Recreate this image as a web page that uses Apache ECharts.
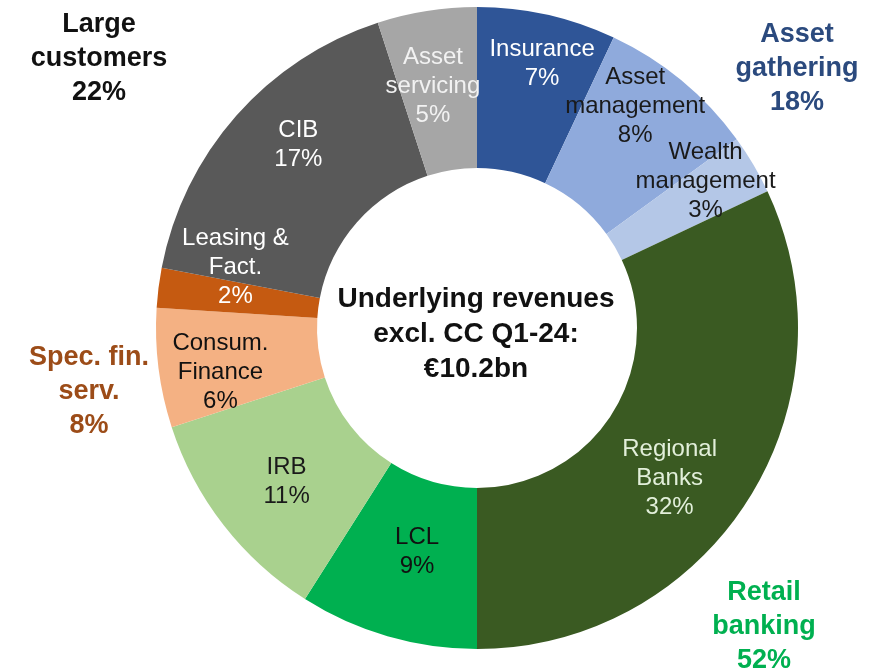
<!DOCTYPE html>
<html>
<head>
<meta charset="utf-8">
<script src="https://cdn.jsdelivr.net/npm/echarts@6/dist/echarts.min.js"></script>
<style>
  html, body { margin: 0; padding: 0; background: #fff; }
  #chart { width: 887px; height: 672px; }
</style>
</head>
<body>
<div id="chart"></div>
<script>
// slices, clockwise from 12 o'clock
var sliceNames = ['Insurance', 'Asset\nmanagement', 'Wealth\nmanagement', 'Regional\nBanks', 'LCL', 'IRB', 'Consum.\nFinance', 'Leasing &\nFact.', 'CIB', 'Asset\nservicing'];
var sliceShares = [7, 8, 3, 32, 9, 11, 6, 2, 17, 5];
var sliceColors = ['#2F5597', '#8FAADC', '#B4C7E7', '#3A5A22', '#00B050', '#A9D18E', '#F4B183', '#C55A11', '#595959', '#A6A6A6'];
var labelColors = ['#ffffff', '#1a1a1a', '#1a1a1a', '#E2EFDA', '#111111', '#1a1a1a', '#111111', '#ffffff', '#ffffff', '#F2F2F2'];
// nudge of each slice label from the ring middle (px)
var labelShift = [[12, -26], [3, -34], [19, -23], [-13, 20], [8, -10], [2, 5], [-15, 14], [0, -30], [4, -22], [-6, -1]];

// business groups
var groupNames = ['Large\ncustomers', 'Asset\ngathering', 'Spec. fin.\nserv.', 'Retail\nbanking'];
var groupShares = [22, 18, 8, 52];
var groupColors = ['#111111', '#2B4A7E', '#9C4C18', '#00B050'];
var groupPos = [[99, 59], [797, 69], [89, 392], [764, 627]];

var centerText = 'Underlying revenues\nexcl. CC Q1-24:\n€10.2bn';

var font = '"Liberation Sans", Arial, sans-serif';

var chart = echarts.init(document.getElementById('chart'));

var pieData = sliceNames.map(function (n, i) {
  return {
    name: n,
    value: sliceShares[i],
    itemStyle: { color: sliceColors[i] },
    label: { color: labelColors[i] }
  };
});

var graphics = groupNames.map(function (n, i) {
  return {
    type: 'text',
    x: groupPos[i][0],
    y: groupPos[i][1],
    style: {
      text: n + '\n' + groupShares[i] + '%',
      fill: groupColors[i],
      font: 'bold 27px ' + font,
      lineHeight: 34,
      align: 'center',
      verticalAlign: 'middle'
    }
  };
});
graphics.push({
  type: 'text',
  x: 476,
  y: 334,
  style: {
    text: centerText,
    fill: '#111111',
    font: 'bold 28px ' + font,
    lineHeight: 35,
    align: 'center',
    verticalAlign: 'middle'
  }
});

var options = {
  animation: false,
  backgroundColor: '#ffffff',
  graphic: graphics,
  series: [
    {
      type: 'pie',
      center: [477, 328],
      radius: [160, 321],
      startAngle: 90,
      clockwise: true,
      avoidLabelOverlap: false,
      itemStyle: { borderWidth: 0 },
      label: {
        show: true,
        position: 'inside',
        formatter: '{b}\n{c}%',
        fontFamily: font,
        fontSize: 24,
        lineHeight: 29,
        align: 'center'
      },
      labelLine: { show: false },
      emphasis: { disabled: true },
      labelLayout: function (params) {
        var s = labelShift[params.dataIndex];
        return { dx: s[0], dy: s[1] };
      },
      data: pieData
    }
  ]
};
chart.setOption(options, true);
</script>
</body>
</html>
